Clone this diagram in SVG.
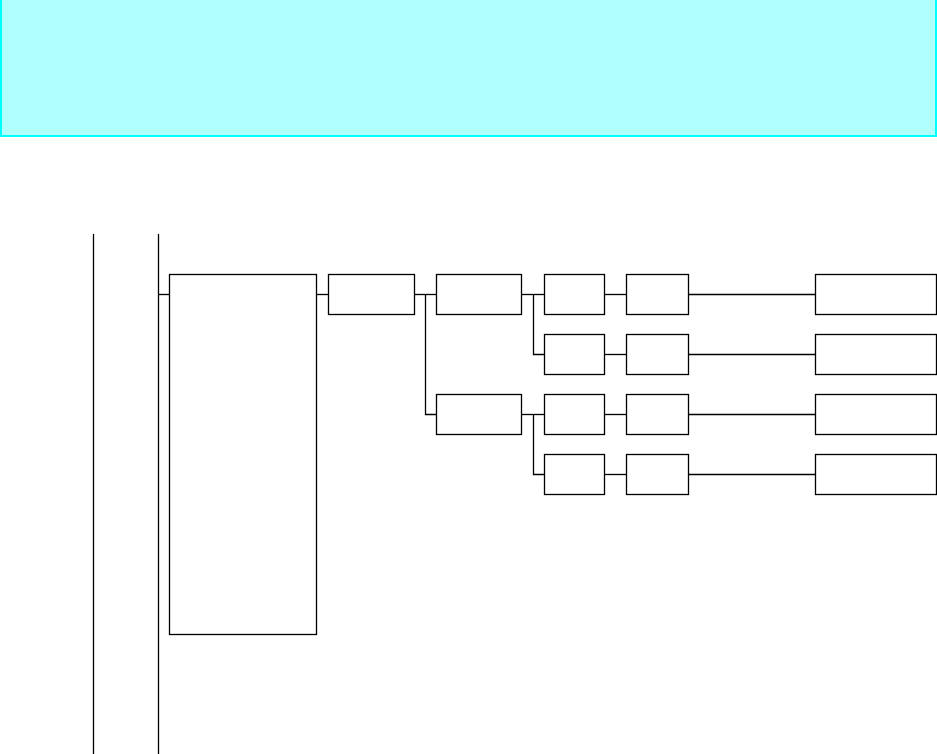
<svg xmlns="http://www.w3.org/2000/svg" width="937" height="754" viewBox="0 0 937 754">
<style>
.n{fill:#ffffff;stroke:#000000;stroke-width:1.3}
.c{fill:none;stroke:#000000;stroke-width:1.3}
</style>
<rect x="0" y="0" width="937" height="754" fill="#ffffff"/>
<rect id="band" x="1" y="-2" width="935" height="138" fill="#b0ffff" stroke="#00ffff" stroke-width="2"/>
<g id="connectors">
<line class="c" x1="93.5" y1="234" x2="93.5" y2="754"/>
<line class="c" x1="158.5" y1="234" x2="158.5" y2="754"/>
<line class="c" x1="158.5" y1="294.5" x2="169.5" y2="294.5"/>
<line class="c" x1="316.5" y1="294.5" x2="328.5" y2="294.5"/>
<polyline class="c" points="414.5,294.5 436.5,294.5"/>
<polyline class="c" points="425.5,294.5 425.5,414.5 436.5,414.5"/>
<polyline class="c" points="521.5,294.5 544.5,294.5"/>
<polyline class="c" points="533.5,294.5 533.5,354.5 544.5,354.5"/>
<polyline class="c" points="521.5,414.5 544.5,414.5"/>
<polyline class="c" points="533.5,414.5 533.5,474.5 544.5,474.5"/>
<line class="c" x1="604.5" y1="294.5" x2="626.5" y2="294.5"/>
<line class="c" x1="604.5" y1="354.5" x2="626.5" y2="354.5"/>
<line class="c" x1="604.5" y1="414.5" x2="626.5" y2="414.5"/>
<line class="c" x1="604.5" y1="474.5" x2="626.5" y2="474.5"/>
<line class="c" x1="688.5" y1="294.5" x2="815.5" y2="294.5"/>
<line class="c" x1="688.5" y1="354.5" x2="815.5" y2="354.5"/>
<line class="c" x1="688.5" y1="414.5" x2="815.5" y2="414.5"/>
<line class="c" x1="688.5" y1="474.5" x2="815.5" y2="474.5"/>
</g>
<g id="main"><rect class="n" x="169.5" y="274.5" width="147" height="360"/></g>
<g id="n1"><rect class="n" x="328.5" y="274.5" width="86" height="40"/></g>
<g id="n2a"><rect class="n" x="436.5" y="274.5" width="85" height="40"/></g>
<g id="n2b"><rect class="n" x="436.5" y="394.5" width="85" height="40"/></g>
<g id="n3a"><rect class="n" x="544.5" y="274.5" width="60" height="40"/></g>
<g id="n3b"><rect class="n" x="544.5" y="334.5" width="60" height="40"/></g>
<g id="n3c"><rect class="n" x="544.5" y="394.5" width="60" height="40"/></g>
<g id="n3d"><rect class="n" x="544.5" y="454.5" width="60" height="40"/></g>
<g id="n4a"><rect class="n" x="626.5" y="274.5" width="62" height="40"/></g>
<g id="n4b"><rect class="n" x="626.5" y="334.5" width="62" height="40"/></g>
<g id="n4c"><rect class="n" x="626.5" y="394.5" width="62" height="40"/></g>
<g id="n4d"><rect class="n" x="626.5" y="454.5" width="62" height="40"/></g>
<g id="n5a"><rect class="n" x="815.5" y="274.5" width="121" height="40"/></g>
<g id="n5b"><rect class="n" x="815.5" y="334.5" width="121" height="40"/></g>
<g id="n5c"><rect class="n" x="815.5" y="394.5" width="121" height="40"/></g>
<g id="n5d"><rect class="n" x="815.5" y="454.5" width="121" height="40"/></g>
</svg>
